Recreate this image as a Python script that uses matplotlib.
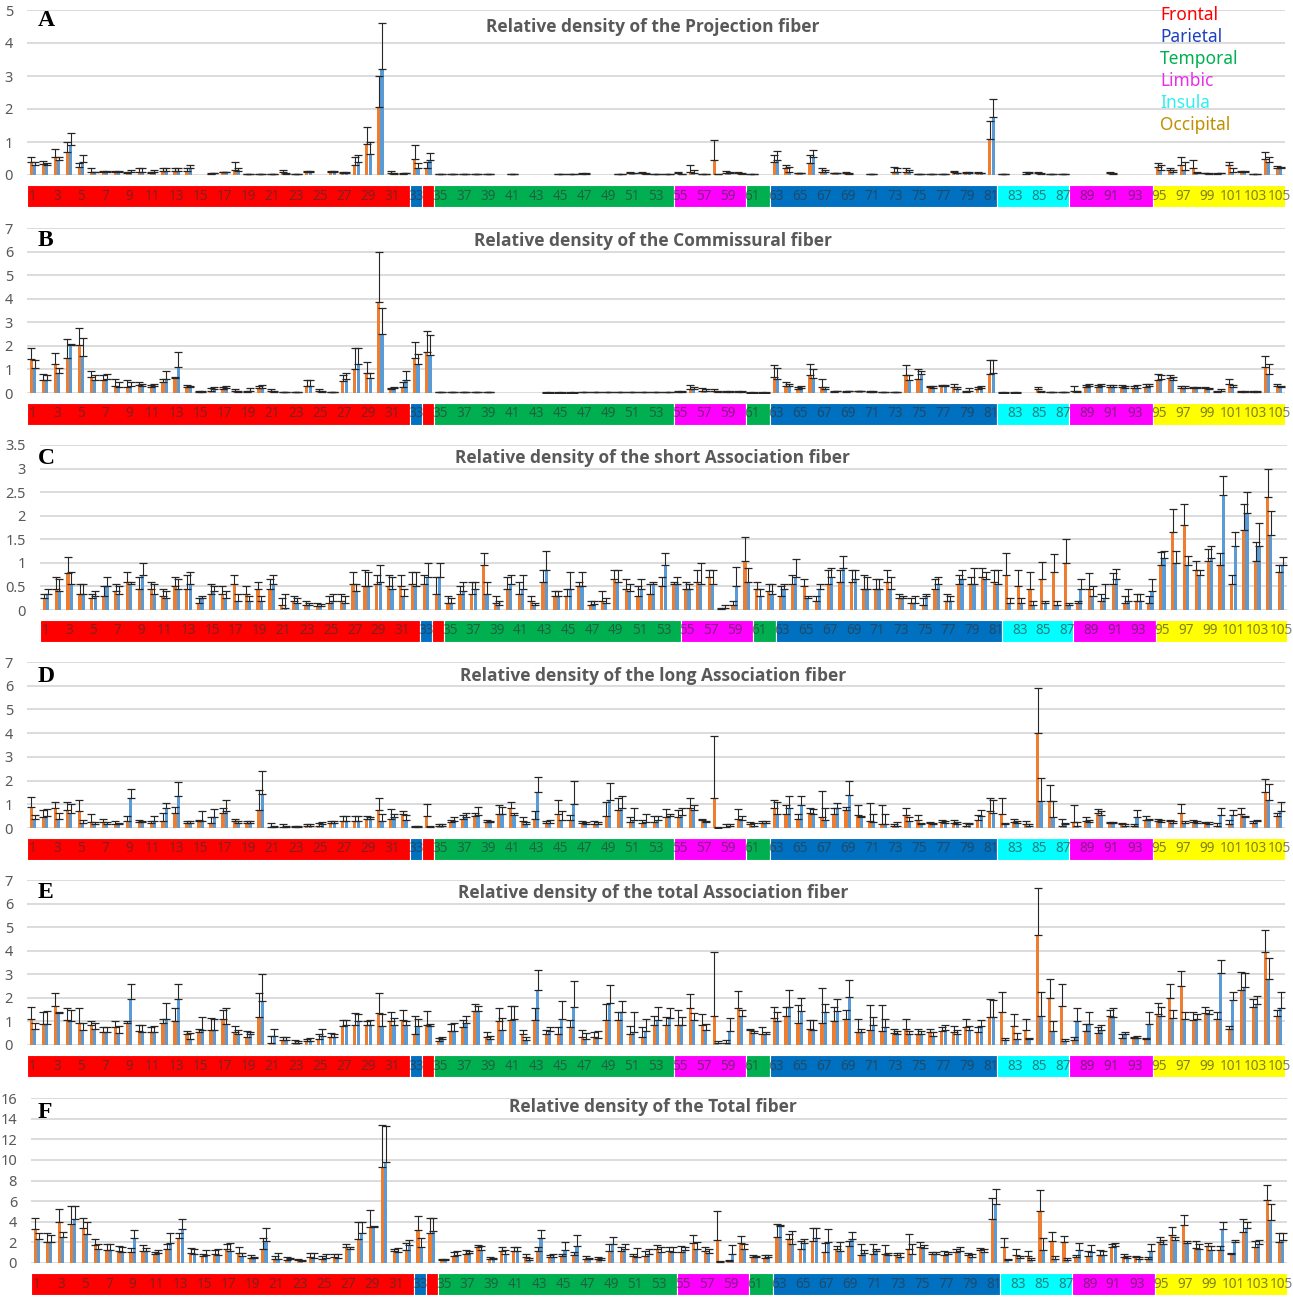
import numpy as np
import matplotlib
matplotlib.use("Agg")
import matplotlib.pyplot as plt

# ---------------- data ----------------
categories = list(range(1, 106))
tick_labels = [str(k) for k in categories if k % 2 == 1]

seg_start = [1, 33, 34, 35, 55, 61, 63, 82, 88, 95]
seg_end = [32, 33, 34, 54, 60, 62, 81, 87, 94, 105]
seg_lobe = ['Frontal', 'Parietal', 'Frontal', 'Temporal', 'Limbic', 'Temporal',
            'Parietal', 'Insula', 'Limbic', 'Occipital']
legend_labels = ['Frontal', 'Parietal', 'Temporal', 'Limbic', 'Insula', 'Occipital']

titles = ['Relative density of the Projection fiber',
          'Relative density of the Commissural fiber',
          'Relative density of the short Association fiber',
          'Relative density of the long Association fiber',
          'Relative density of the total Association fiber',
          'Relative density of the Total fiber']
letters = ['A', 'B', 'C', 'D', 'E', 'F']
y_max = [5, 7, 3.5, 7, 7, 16]
y_step = [1, 1, 0.5, 1, 1, 2]

# Panel A (Projection): orange mean / upper, blue mean / upper
A_o = [.38,.32,.55,.70,.25,.10,.10,.10,.05,.10,.05,.12,.12,.12,0,.03,.08,.15,.03,.03,.02,.10,.03,.08,0,.08,.05,.30,.95,2.05,.05,.03,.50,.20,
       .02,.02,.02,.02,.02,0,.02,0,0,0,.03,.03,.03,0,0,.02,.05,.05,.03,.03,
       .05,.10,.03,.45,.05,.05,
       .02,0,
       .40,.20,.05,.35,.10,.05,.05,0,.02,0,.10,.10,.03,.03,.02,.10,.05,.05,1.10,
       .02,0,.03,.05,.03,.03,
       0,0,0,.05,0,0,0,
       .25,.15,.30,.20,.05,.03,.30,.10,.03,.50,.20]
A_ou = [.55,.43,.80,1.0,.35,.22,.12,.12,.08,.20,.10,.20,.20,.20,0,.05,.10,.38,.04,.04,.03,.15,.04,.12,0,.12,.08,.55,1.45,3.0,.12,.05,.92,.38,
        .03,.03,.03,.03,.03,0,.03,0,0,0,.04,.04,.05,0,0,.03,.08,.10,.04,.04,
        .08,.30,.04,1.05,.12,.10,
        .03,0,
        .62,.30,.07,.60,.20,.07,.08,0,.03,0,.25,.22,.04,.04,.03,.12,.08,.08,1.65,
        .03,0,.08,.10,.04,.04,
        0,0,0,.08,0,0,0,
        .35,.20,.55,.45,.07,.05,.40,.12,.04,.70,.28]
A_b = [.30,.30,.45,.90,.40,.08,.10,.10,.10,.10,.10,.12,.12,.20,0,.05,.08,.12,.03,.03,.03,.03,.03,.08,0,.10,.05,.40,.65,3.2,.03,.05,.20,.45,
       .02,.02,.02,.02,.02,0,.02,0,0,0,.03,.03,.03,0,0,.02,.05,.03,.03,.03,
       .03,.05,.03,.02,.05,.03,
       .02,0,
       .45,.10,.05,.55,.10,.05,.03,0,.02,0,.10,.10,.03,.03,.02,.05,.05,.05,1.75,
       .02,0,.05,.03,.03,.03,
       0,0,0,.03,0,0,0,
       .15,.10,.15,.05,.03,.05,.10,.10,.03,.40,.20]
A_bu = [.38,.35,.55,1.28,.60,.10,.12,.12,.15,.22,.15,.22,.20,.30,0,.06,.10,.20,.04,.04,.04,.05,.04,.12,0,.12,.08,.62,1.0,4.6,.05,.06,.35,.68,
        .03,.03,.03,.03,.03,0,.03,0,0,0,.04,.04,.05,0,0,.03,.06,.05,.04,.04,
        .04,.15,.04,.03,.10,.05,
        .03,0,
        .72,.25,.07,.75,.15,.07,.05,0,.03,0,.20,.15,.04,.04,.03,.07,.08,.07,2.3,
        .03,0,.10,.05,.04,.04,
        0,0,0,.05,0,0,0,
        .30,.15,.40,.10,.05,.07,.20,.12,.04,.55,.25]

# Panel B (Commissural)
B_o = [1.45,.55,1.25,1.5,2.05,.7,.55,.3,.25,.35,.25,.45,.65,.25,.05,.1,.15,.1,.05,.2,.1,.05,.05,.3,.1,.05,.5,1.0,.85,3.85,.15,.25,1.5,1.75,
       .03,.03,.03,.03,.03,0,0,0,0,.02,.02,.02,.03,.03,.03,.03,.03,.03,.03,.03,
       .05,.15,.1,.08,.05,.05,
       .02,.02,
       .7,.3,.15,.75,.25,.05,.05,.08,.05,.05,.05,.75,.6,.25,.3,.25,.05,.15,.8,
       .02,.02,0,.15,.05,.05,
       .1,.25,.25,.25,.25,.2,.25,
       .55,.65,.2,.2,.2,.05,.4,.05,.05,1.1,.3]
B_ou = [1.9,.8,1.7,2.3,2.75,.95,.75,.6,.55,.45,.35,.6,.7,.35,.08,.2,.25,.15,.08,.3,.15,.06,.06,.55,.15,.06,.75,1.9,1.3,6.0,.2,.45,2.15,2.65,
        .04,.04,.04,.04,.04,0,0,0,0,.03,.03,.03,.04,.04,.04,.04,.04,.04,.04,.04,
        .08,.35,.2,.15,.1,.1,
        .03,.03,
        1.2,.45,.25,1.25,.6,.1,.08,.1,.08,.06,.06,1.2,1.0,.3,.35,.4,.1,.25,1.4,
        .03,.03,0,.25,.06,.06,
        .3,.35,.35,.35,.35,.3,.4,
        .8,.75,.3,.25,.25,.1,.6,.1,.08,1.55,.38]
B_b = [1.05,.55,.85,2.05,1.55,.55,.6,.25,.3,.3,.3,.6,1.1,.25,.05,.15,.2,.05,.1,.2,.05,.05,.05,.3,.05,.05,.6,1.25,.65,2.5,.2,.55,1.25,1.6,
       .03,.03,.03,.03,.03,0,0,0,0,.02,.02,.02,.03,.03,.03,.03,.03,.03,.03,.03,
       .05,.15,.1,.05,.05,.05,
       .02,.02,
       .6,.3,.2,.65,.15,.08,.08,.08,.05,.05,.05,.55,.8,.2,.3,.15,.1,.2,.85,
       .02,.02,0,.05,.05,.05,
       .05,.3,.3,.25,.2,.2,.3,
       .6,.55,.2,.2,.15,.1,.25,.05,.05,.8,.25]
B_bu = [1.4,.75,1.05,2.1,2.35,.75,.8,.45,.45,.4,.4,.95,1.75,.3,.1,.25,.3,.1,.2,.35,.08,.06,.06,.55,.1,.06,.85,1.9,.85,3.6,.25,.95,1.65,2.45,
        .04,.04,.04,.04,.04,0,0,0,0,.03,.03,.03,.04,.04,.04,.04,.04,.04,.04,.04,
        .08,.25,.15,.1,.08,.1,
        .03,.03,
        1.05,.4,.3,1.0,.25,.1,.1,.1,.08,.06,.06,.75,.95,.3,.35,.25,.2,.3,1.4,
        .03,.03,0,.08,.06,.06,
        .1,.4,.4,.35,.3,.35,.4,
        .75,.7,.3,.25,.2,.15,.35,.1,.08,1.25,.3]

# Panel C (short Association)
C_o = [.25,.45,.78,.35,.25,.3,.4,.6,.45,.45,.3,.5,.45,.15,.35,.35,.55,.35,.45,.45,.1,.2,.1,.08,.15,.2,.55,.5,.55,.5,.5,.55,.55,.35,
       .15,.35,.35,.95,.15,.45,.35,.2,.6,.3,.3,.5,.1,.2,.65,.45,.3,.35,.5,.55,
       .45,.6,.7,.03,.1,1.05,
       .45,.4,
       .3,.55,.5,.2,.55,.6,.6,.45,.45,.6,.25,.15,.1,.45,.2,.55,.55,.7,.6,
       .75,.5,.45,.65,.8,1.0,
       .15,.45,.2,.55,.15,.2,.15,
       .95,1.65,1.8,.85,1.05,.95,.55,1.7,1.05,2.4,.8]
C_ou = [.35,.7,1.12,.55,.35,.5,.55,.8,.7,.6,.45,.7,.75,.25,.55,.5,.75,.5,.6,.65,.25,.3,.2,.15,.3,.35,.8,.85,.75,.75,.75,.8,.75,.7,
        .3,.5,.6,1.2,.3,.7,.6,.3,.85,.4,.45,.6,.2,.4,.85,.65,.5,.55,.7,.6,
        .6,.85,.85,.05,.2,1.55,
        .6,.55,
        .5,.75,.65,.3,.85,.85,.85,.75,.65,.85,.35,.25,.25,.65,.35,.75,.7,.9,.85,
        1.2,.85,.8,1.02,1.18,1.5,
        .2,.78,.35,.78,.3,.35,.3,
        1.22,2.15,2.25,1.05,1.3,1.2,.75,2.25,1.45,3.0,.95]
C_b = [.35,.4,.55,.35,.3,.5,.35,.55,.75,.35,.25,.45,.55,.25,.4,.25,.2,.2,.2,.55,.05,.15,.1,.08,.2,.15,.4,.5,.6,.45,.3,.5,.7,.7,
       .15,.4,.45,.35,.1,.55,.45,.1,.85,.3,.45,.5,.12,.15,.6,.4,.45,.55,.95,.55,
       .45,.55,.55,.05,.5,.6,
       .3,.35,
       .45,.7,.25,.45,.7,.9,.65,.45,.45,.45,.25,.15,.3,.55,.2,.65,.55,.65,.55,
       .15,.15,.1,.15,.1,.1,
       .45,.3,.25,.65,.2,.2,.4,
       1.1,1.0,.95,.75,1.1,2.45,1.35,2.05,1.35,1.6,.95]
C_bu = [.45,.65,.8,.55,.4,.7,.5,.6,1.0,.55,.4,.65,.8,.3,.5,.4,.35,.3,.3,.75,.35,.25,.15,.12,.35,.3,.55,.8,.95,.7,.45,.8,1.0,1.0,
        .25,.6,.6,.6,.2,.75,.75,.15,1.25,.4,.8,.8,.2,.25,.85,.55,.65,.6,1.2,.7,
        .55,1.0,.85,.1,.92,.9,
        .45,.55,
        .55,1.08,.3,.55,.9,1.15,.85,.7,.65,.7,.3,.3,.35,.7,.3,.85,.9,.8,.85,
        .25,.25,.2,.2,.2,.15,
        .65,.5,.55,.88,.45,.35,.65,
        1.25,1.25,1.15,.85,1.35,2.85,1.65,2.5,1.85,2.1,1.12]

# Panel D (long Association)
D_o = [.9,.45,.85,.75,.7,.25,.25,.15,.3,.25,.2,.3,.65,.2,.3,.2,.65,.3,.2,.75,.05,.05,.05,.1,.1,.2,.3,.3,.4,.75,.4,.6,.05,.5,
       .1,.25,.4,.5,.25,.6,.85,.3,.4,.2,.6,.35,.2,.15,.5,.75,.25,.2,.25,.45,
       .45,.85,.35,1.25,.05,.4,
       .15,.2,
       .85,.6,.4,.65,.45,.6,.75,.55,.3,.15,.1,.55,.35,.2,.25,.2,.1,.35,.7,
       .6,.25,.15,4.0,1.15,.1,
       .25,.3,.65,.2,.15,.1,.35,
       .3,.3,.65,.25,.2,.1,.15,.6,.2,1.5,.5]
D_ou = [1.3,.75,1.1,1.1,1.2,.6,.4,.3,.5,.35,.3,.65,.9,.3,.35,.45,.85,.4,.3,1.6,.2,.15,.1,.15,.2,.3,.5,.5,.5,1.25,.8,.7,.1,1.0,
        .15,.35,.55,.65,.35,.95,1.1,.45,.7,.3,1.2,.55,.3,.3,1.1,1.25,.45,.35,.5,.8,
        .75,1.25,.4,3.9,.15,.8,
        .25,.3,
        1.2,.95,.6,.85,1.55,.85,.9,.95,1.05,.95,.15,.85,.55,.25,.35,.35,.2,.55,1.25,
        1.25,.4,.3,5.9,1.8,.4,
        .95,.45,.8,.25,.2,.15,.5,
        .4,.35,1.0,.35,.25,.2,.35,.85,.3,2.05,.65]
D_b = [.4,.5,.4,.65,.2,.15,.15,.15,1.25,.25,.3,.85,1.35,.2,.3,.45,.7,.2,.2,1.45,.05,.05,.05,.1,.15,.2,.3,.3,.4,.3,.45,.35,.05,.05,
       .1,.3,.45,.55,.25,.6,.55,.15,1.5,.2,.35,1.0,.15,.15,1.2,.85,.35,.25,.35,.5,
       .55,.75,.25,.02,.1,.35,
       .1,.2,
       .6,.85,.95,.6,.35,.85,1.4,.45,.25,.15,.1,.3,.15,.15,.2,.15,.15,.5,.65,
       .15,.2,.1,1.15,.45,.15,
       .1,.25,.55,.2,.1,.45,.35,
       .25,.2,.2,.2,.15,.55,.55,.45,.3,1.2,.7]
D_bu = [.55,.8,.65,1.0,.35,.25,.25,.2,1.65,.3,.5,1.05,1.95,.3,.7,.8,1.2,.3,.3,2.4,.1,.1,.08,.15,.25,.3,.5,.5,.45,.6,.6,.55,.1,.1,
        .15,.45,.65,.9,.3,.9,.65,.25,2.15,.35,.7,2.0,.25,.25,1.9,1.35,.85,.6,.5,.6,
        .85,.95,.3,.05,.15,.5,
        .2,.3,
        1.1,1.35,1.35,.8,.85,1.05,2.0,.5,.6,.6,.25,.45,.2,.2,.3,.25,.2,.75,1.2,
        .2,.3,.15,2.1,1.15,.2,
        .25,.35,.7,.25,.15,.75,.4,
        .35,.3,.3,.3,.25,.85,.75,.5,.35,1.85,1.1]

# Panel E (total Association)
E_o = [1.1,.9,1.65,1.05,.95,.85,.55,.75,.95,.6,.55,.95,1.0,.45,.55,.65,1.1,.55,.35,1.2,.1,.2,.1,.15,.25,.35,.8,.85,.85,1.35,1.0,1.05,.45,.85,
       .15,.6,.75,1.45,.35,1.0,1.05,.45,1.05,.45,.45,.75,.35,.35,1.05,1.05,.45,.35,.85,.85,
       .85,1.55,.85,1.25,.1,1.55,
       .65,.45,
       1.15,1.25,.95,.7,.95,1.0,1.1,.55,.65,.6,.5,.7,.45,.55,.6,.55,.75,.55,1.2,
       1.4,.8,.65,4.65,2.0,1.65,
       .2,.6,.5,1.25,.3,.3,.25,
       1.3,2.0,2.5,1.05,1.35,1.1,.7,2.35,1.6,3.95,1.25]
E_ou = [1.6,1.4,2.2,1.55,1.55,1.0,.75,1.0,1.0,.85,.75,1.1,1.55,.6,.7,1.15,1.5,.8,.6,2.2,.4,.35,.2,.25,.45,.5,1.05,1.35,1.0,2.2,1.4,1.5,1.25,1.45,
        .3,.9,1.05,1.75,.55,1.55,1.65,.65,1.55,.65,.75,1.05,.65,.55,1.75,1.4,.8,.75,1.25,1.2,
        1.5,2.15,1.3,3.95,.2,2.3,
        .7,.75,
        1.6,1.6,1.7,1.05,2.4,1.6,1.5,1.1,1.7,1.7,.7,1.1,.7,.7,.75,.8,1.1,.75,1.95,
        2.25,1.3,1.1,6.65,2.8,2.6,
        .35,.9,.75,1.5,.45,.35,.3,
        1.8,2.6,3.15,1.4,1.6,1.4,.8,3.1,1.95,4.9,1.5]
E_b = [.7,.9,1.35,1.0,.65,.7,.55,.5,1.95,.55,.55,1.1,1.95,.25,.65,.65,.9,.45,.45,1.85,.4,.2,.1,.15,.4,.35,.85,1.0,.85,.8,.85,.85,.8,.8,
       .25,.6,.95,1.45,.25,.65,1.1,.2,2.35,.6,1.1,1.6,.25,.3,1.8,1.4,.55,.6,1.05,1.15,
       .85,1.05,.65,.08,.6,1.25,
       .5,.45,
       1.0,1.6,1.45,.65,1.4,1.45,2.05,.55,.85,.75,.45,.45,.45,.4,.65,.45,.65,.8,1.2,
       .2,.25,.25,1.25,.6,.15,
       1.0,.9,.65,1.2,.45,.3,.9,
       1.25,1.15,1.1,1.1,1.3,3.05,1.9,2.45,1.75,2.8,1.55]
E_bu = [.95,1.45,1.4,1.5,.95,.95,.75,.8,2.6,.85,.8,1.8,2.6,.5,1.2,1.1,1.55,.65,.55,3.0,.7,.35,.15,.3,.7,.45,1.05,1.3,1.05,1.3,1.15,1.0,1.1,.9,
        .35,.95,1.25,1.65,.4,1.15,1.65,.35,3.2,.75,1.85,2.7,.5,.6,2.55,1.85,1.4,1.1,1.6,1.55,
        1.2,1.35,.9,.15,1.15,1.5,
        .6,.55,
        1.4,2.35,2.0,1.05,1.75,1.95,2.75,.7,1.2,1.1,.6,.6,.6,.55,.85,.65,.8,1.05,1.9,
        .3,.5,.3,2.25,1.0,.25,
        1.55,1.4,.85,1.55,.55,.4,1.4,
        1.6,1.5,1.4,1.3,1.5,3.6,2.25,3.05,2.1,3.7,2.25]

# Panel F (Total)
F_o = [3.3,2.0,4.0,3.8,3.4,1.7,1.3,1.2,1.1,1.15,.9,1.35,2.45,1.0,.7,.85,1.35,1.0,.5,1.35,.35,.3,.25,.55,.4,.55,1.55,2.35,3.45,9.3,1.15,1.3,3.2,2.9,
       .25,.7,.9,1.55,.4,1.2,1.15,.6,1.2,.55,.65,.75,.4,.35,1.2,1.2,.65,.7,1.4,1.2,
       1.1,1.95,1.15,2.2,.15,1.95,
       .6,.5,
       2.55,2.35,1.35,2.1,1.05,1.4,1.65,.8,.9,.85,.75,1.35,1.55,.85,.8,1.1,.75,1.25,4.3,
       1.55,.8,.7,5.05,2.15,2.05,
       .55,.7,.75,1.6,.6,.55,.35,
       2.0,2.75,3.7,1.5,1.65,1.3,.85,3.05,1.55,6.1,2.0]
F_ou = [4.35,2.9,5.2,5.5,4.35,2.35,1.85,1.65,1.45,1.7,1.1,1.85,2.95,1.45,.9,1.3,1.85,1.6,.75,2.4,.7,.55,.35,1.0,.7,.9,1.85,4.0,5.15,13.4,1.35,1.9,4.55,4.4,
        .35,1.05,1.3,1.75,.6,1.55,1.6,.85,1.55,.75,.85,1.1,.65,.55,1.85,1.55,.85,1.15,1.75,1.6,
        1.65,2.75,1.6,5.05,.3,2.6,
        .75,.75,
        3.8,2.85,2.15,3.35,1.95,1.65,2.1,1.8,1.8,1.75,1.0,2.8,2.05,1.05,1.15,1.4,.95,1.5,6.35,
        2.45,1.35,1.15,7.1,3.0,2.65,
        .8,1.2,1.3,1.85,.9,.7,.55,
        2.5,3.5,4.7,2.15,1.9,1.65,.95,4.25,2.15,7.6,2.95]
F_b = [2.3,2.05,2.5,4.25,2.85,1.35,1.3,1.1,2.4,1.2,.95,1.9,3.25,.9,.75,.8,1.2,.65,.45,2.1,.4,.35,.15,.45,.45,.5,1.35,2.9,3.5,9.75,1.05,1.75,1.55,3.15,
       .3,.75,1.0,1.3,.35,.85,1.15,.3,2.4,.6,1.25,1.65,.35,.3,1.85,1.35,.55,.85,1.1,1.1,
       1.25,1.4,1.0,.1,.85,1.35,
       .55,.55,
       3.6,1.85,1.95,2.45,2.0,1.2,2.35,.95,1.15,.75,.6,.9,1.45,.9,.85,1.2,.6,1.1,5.7,
       .25,.5,.3,1.3,.4,.3,
       1.3,1.1,.8,1.65,.5,.4,1.15,
       1.85,2.25,1.95,1.35,1.3,3.3,2.0,3.35,1.85,4.2,2.2]
F_bu = [2.9,2.7,3.0,5.5,4.0,1.85,1.8,1.55,3.2,1.5,1.3,2.9,4.3,1.35,1.3,1.35,1.9,1.0,.6,3.35,.95,.5,.3,1.0,.9,.85,1.55,4.0,3.55,13.3,1.5,2.2,2.4,4.4,
        .4,1.15,1.2,1.65,.5,1.3,1.6,.45,3.2,.85,2.0,2.7,.5,.5,2.5,1.85,1.45,1.35,1.55,1.6,
        1.6,2.0,1.35,.2,1.75,1.8,
        .7,.75,
        3.7,3.15,2.3,3.35,3.3,2.0,3.0,1.25,1.35,1.0,.95,1.85,1.75,1.05,1.1,1.55,.9,1.35,7.2,
        .4,.65,.45,2.4,.7,.5,
        1.9,1.75,1.2,1.9,.7,.55,1.8,
        2.2,2.5,2.15,1.85,1.65,3.95,2.25,4.0,2.2,5.7,2.9]

panel_data = [(A_o, A_ou, A_b, A_bu), (B_o, B_ou, B_b, B_bu), (C_o, C_ou, C_b, C_bu),
              (D_o, D_ou, D_b, D_bu), (E_o, E_ou, E_b, E_bu), (F_o, F_ou, F_b, F_bu)]

# ---------------- style ----------------
W, H = 1293, 1300
ORANGE = '#ED7D31'
BLUE = '#5B9BD5'
GRAY = '#595959'
lobe_fill = {'Frontal': '#FF0000', 'Parietal': '#0070C0', 'Temporal': '#00B050',
             'Limbic': '#FF00FF', 'Insula': '#00FFFF', 'Occipital': '#FFFF00'}
lobe_text = {'Frontal': '#FF0000', 'Parietal': '#2040C0', 'Temporal': '#00B050',
             'Limbic': '#E830E8', 'Insula': '#30F0F0', 'Occipital': '#BF9000'}

# pixel layout: (x_left, x_right, y_top, y_bottom, strip_top, strip_bottom, title_y, letter_y)
layout = [(27, 1285, 10, 175, 185, 207, 27, 20),
          (27, 1285, 228, 393, 403, 425, 241, 240),
          (40, 1287, 445, 610, 620, 642, 458, 458),
          (27, 1285, 662, 828, 838, 860, 676, 676),
          (27, 1285, 880, 1045, 1055, 1077, 893, 893),
          (31, 1287, 1098, 1263, 1273, 1295, 1107, 1112)]

plt.rcParams['font.family'] = ['Noto Sans', 'DejaVu Sans']

fig = plt.figure(figsize=(W / 100, H / 100), dpi=100)


def box(x0, x1, y0, y1):
    return [x0 / W, 1 - y1 / H, (x1 - x0) / W, (y1 - y0) / H]


x = np.array(categories, dtype=float)
bw = 0.27
for i, (o, ou, b, bu) in enumerate(panel_data):
    o = np.array(o); ou = np.array(ou); b = np.array(b); bu = np.array(bu)
    xl, xr, yt, yb, st, sb, ty, ly = layout[i]
    ax = fig.add_axes(box(xl, xr, yt, yb))
    ax.bar(x - 0.14, o, width=bw, color=ORANGE, zorder=2, linewidth=0)
    ax.bar(x + 0.14, b, width=bw, color=BLUE, zorder=2, linewidth=0)
    for xs, m, up in ((x - 0.14, o, ou), (x + 0.14, b, bu)):
        mask = up > 0
        err = np.clip(up - m, 0, None)
        ax.errorbar(xs[mask], m[mask], yerr=[np.zeros(mask.sum()), err[mask]], fmt='none',
                    ecolor='#262626', elinewidth=0.8, capsize=2.8, capthick=0.9, zorder=3)
    ax.set_xlim(0.5, 105.5)
    ax.set_ylim(0, y_max[i])
    ticks = np.arange(0, y_max[i] + 1e-9, y_step[i])
    ax.set_yticks(ticks)
    ax.set_yticklabels([('%g' % t) for t in ticks], fontsize=10.5, color=GRAY)
    ax.tick_params(axis='y', length=0, pad=10)
    ax.set_xticks([])
    ax.grid(axis='y', color='#D9D9D9', linewidth=1.3, zorder=0)
    ax.set_axisbelow(True)
    for s in ax.spines.values():
        s.set_visible(False)
    ax.patch.set_alpha(0)

    fig.text(653 / W, 1 - ty / H, titles[i], ha='center', va='center', fontsize=12.5,
             fontweight='bold', family=['Open Sans', 'DejaVu Sans'], color=GRAY)
    fig.text(38 / W, 1 - ly / H, letters[i], ha='left', va='center', fontsize=17,
             fontweight='bold', family=['Liberation Serif', 'DejaVu Serif'], color='black')

    # region strip
    sx = fig.add_axes(box(xl, xr, st, sb))
    for s0, s1, lobe in zip(seg_start, seg_end, seg_lobe):
        sx.bar(s0 - 0.5, 1, width=s1 - s0 + 1, align='edge', color=lobe_fill[lobe],
               edgecolor='white', linewidth=0.8)
    for lab in tick_labels:
        sx.text(int(lab), 0.5, lab, ha='center', va='center', fontsize=9.8,
                color='#333333', alpha=0.62)
    sx.set_xlim(0.5, 105.5)
    sx.set_ylim(0, 1)
    sx.axis('off')

# legend of lobes (text only)
for j, name in enumerate(legend_labels):
    fig.text(1160 / W, 1 - (15 + 22 * j) / H, name, ha='left', va='center', fontsize=12.5,
             color=lobe_text[name])

fig.savefig('out.png', dpi=100)
